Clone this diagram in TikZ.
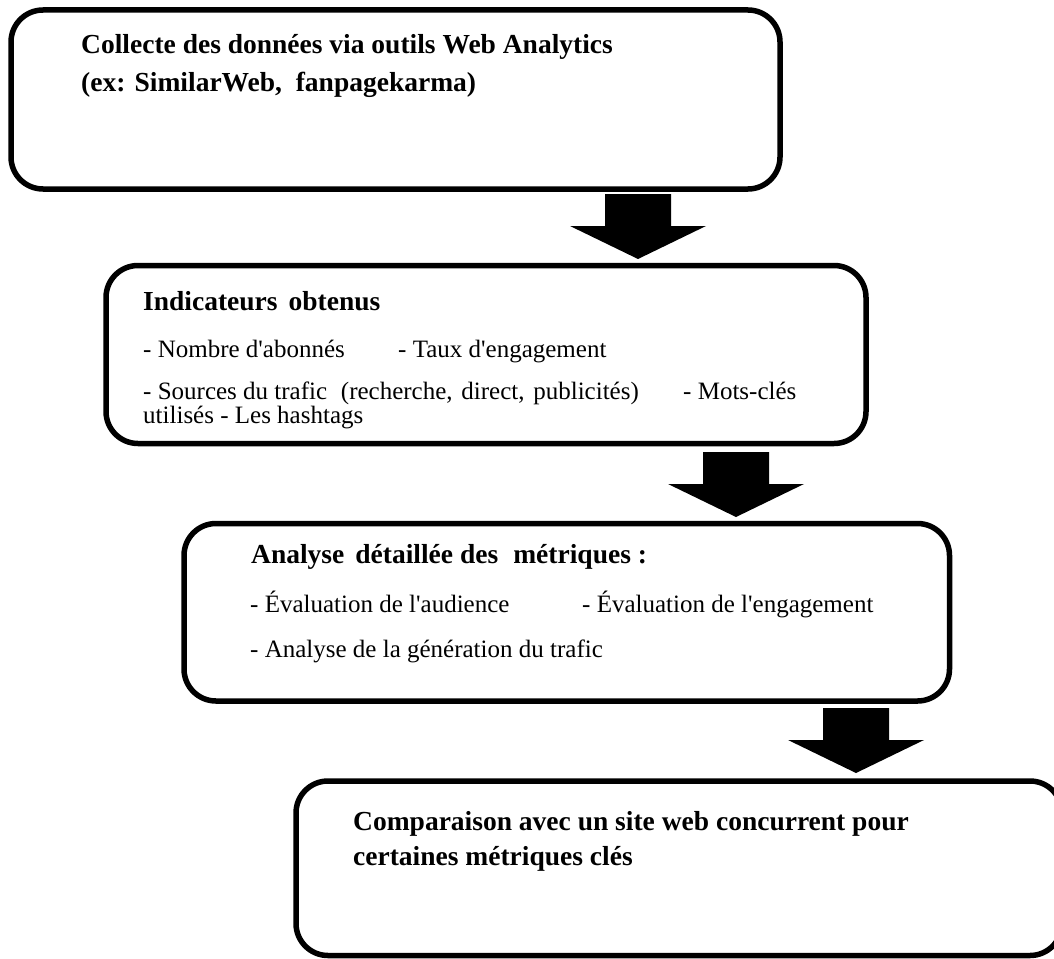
\documentclass[tikz,border=0pt]{standalone}
\usepackage{fontspec}
\setmainfont{Liberation Serif}
\newcommand{\apos}{\textquotesingle}
\begin{document}
\begin{tikzpicture}[x=1pt,y=-1pt,
  stepbox/.style={draw=black, line width=5.5pt, rounded corners=32pt,
    inner sep=0pt, outer sep=0pt, fill=white},
  headtext/.style={anchor=base west, inner sep=0pt,
    font=\fontsize{27.5}{30}\selectfont\bfseries},
  itemtext/.style={anchor=base west, inner sep=0pt,
    font=\fontsize{25}{28}\selectfont},
  pics/downarrow/.style={code={
    \fill[black] (-33,0) -- (33,0) -- (33,32) -- (68,32) -- (0,65)
      -- (-68,32) -- (-33,32) -- cycle;}}
]
\useasboundingbox (0,0) rectangle (1054,958);
\clip (0,0) rectangle (1054,958);
\fill[white] (0,0) rectangle (1054,958);

% the four stages
\node[stepbox, minimum width=769pt, minimum height=179pt] (s1) at (395.5,99.5) {};
\node[stepbox, minimum width=760pt, minimum height=178pt] (s2) at (486,354.5) {};
\node[stepbox, minimum width=765.5pt, minimum height=177.5pt] (s3) at (566.75,612.25) {};
\node[stepbox, minimum width=766pt, minimum height=174.5pt] (s4) at (679,868.25) {};

% block arrows from one stage to the next
\coordinate (a1) at (s1.south -| 638,0);
\coordinate (a2) at (s2.south -| 736,0);
\coordinate (a3) at (s3.south -| 856,0);
\pic at ([yshift=-5pt]a1) {downarrow};
\pic at ([yshift=-8.5pt]a2) {downarrow};
\pic at ([yshift=-7pt]a3) {downarrow};

% stage 1
\node[headtext] (t1a) at (81,53) {Collecte des données via outils Web Analytics};
\node[headtext] (t1b) at (81,91) {(ex: SimilarWeb,\hspace{0.25em} fanpagekarma)};

% stage 2
\node[headtext] (t2a) at (143,310) {Indicateurs\hspace{0.15em} obtenus};
\node[itemtext] (t2b) at (143,357) {- Nombre d\apos abonnés};
\node[itemtext] (t2c) at (398,357) {- Taux d\apos engagement};
\node[itemtext] (t2d) at (143,399) {- Sources du trafic\hspace{0.3em} (recherche,\hspace{0.1em} direct,\hspace{0.1em} publicités)};
\node[itemtext] (t2e) at (683,399) {- Mots-clés};
\node[itemtext] (t2f) at (143,423) {utilisés - Les hashtags};

% stage 3
\node[headtext] (t3a) at (251,563) {Analyse\hspace{0.15em} détaillée des\hspace{0.3em} métriques :};
\node[itemtext] (t3b) at (250,612) {- Évaluation de l\apos audience};
\node[itemtext] (t3c) at (582,612) {- Évaluation de l\apos engagement};
\node[itemtext] (t3d) at (250,657) {- Analyse de la génération du trafic};

% stage 4
\node[headtext] (t4a) at (353,830) {Comparaison avec un site web concurrent pour};
\node[headtext] (t4b) at (353,865) {certaines métriques clés};
\end{tikzpicture}
\end{document}
